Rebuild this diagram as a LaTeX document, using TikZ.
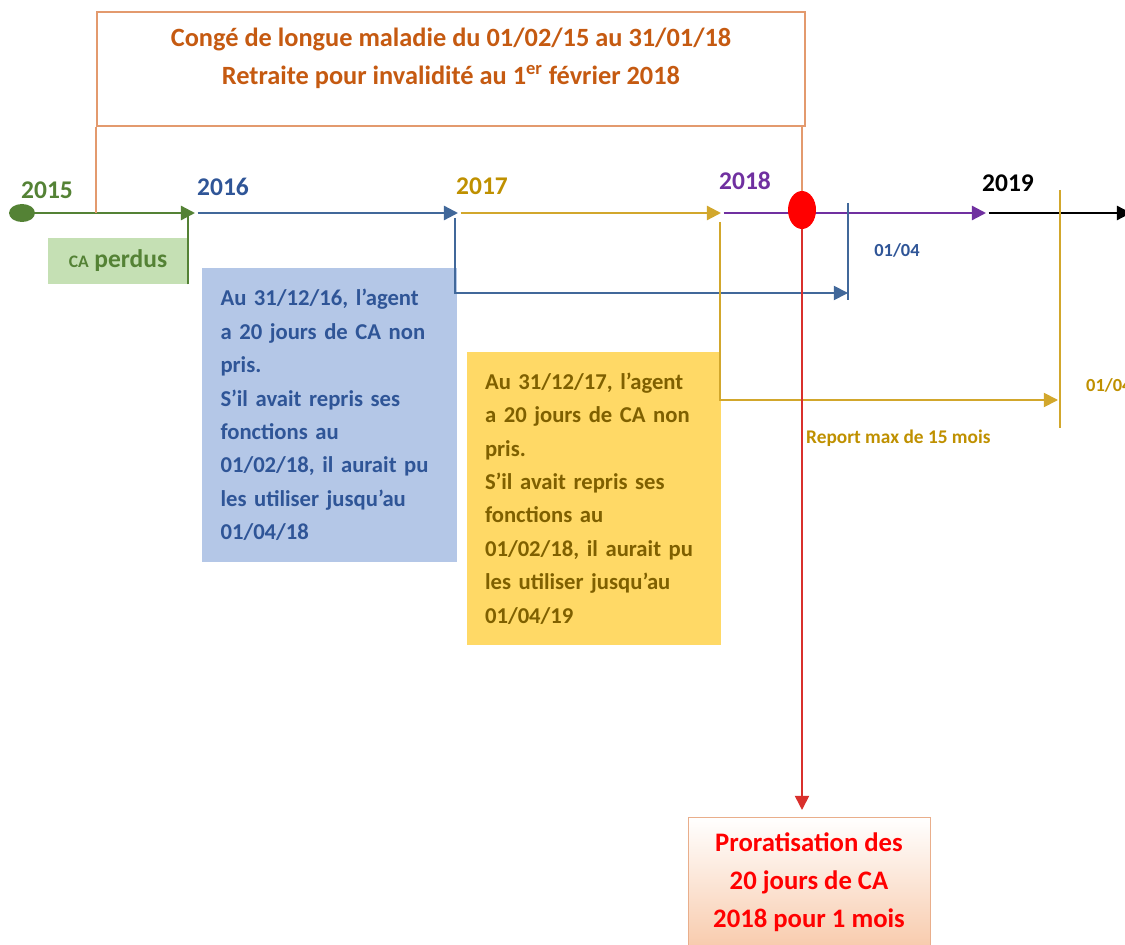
\documentclass[tikz,border=0pt]{standalone}
\usepackage{fontspec}
\setmainfont{Carlito}
\usetikzlibrary{arrows.meta,shapes.geometric,positioning}

\definecolor{congetxt}{HTML}{C55A11}
\definecolor{congeline}{HTML}{E39A6E}
\definecolor{vert}{HTML}{548235}
\definecolor{vertclair}{HTML}{C5E0B4}
\definecolor{bleu}{HTML}{2F5597}
\definecolor{bleuline}{HTML}{41689A}
\definecolor{bleuclair}{HTML}{B4C7E7}
\definecolor{dore}{HTML}{BF9000}
\definecolor{doreline}{HTML}{D2A72C}
\definecolor{doreclair}{HTML}{FFD966}
\definecolor{dorefonce}{HTML}{7F6000}
\definecolor{violet}{HTML}{7030A0}
\definecolor{rougeline}{HTML}{D9302C}
\definecolor{peche}{HTML}{F8CBAD}

\tikzset{
  axe/.style={line width=1.3pt,->},
  trait/.style={line width=1pt},
  annee/.style={font=\bfseries\fontsize{14.5}{16}\selectfont},
  petit/.style={font=\bfseries\fontsize{10.5}{12}\selectfont},
  note/.style={minimum height=5.87cm, text width=4.36cm, inner xsep=0.37cm,
    align=left, font=\bfseries\fontsize{12.9}{19}\selectfont}
}

\begin{document}
\begin{tikzpicture}[x=0.02cm,y=-0.02cm, >={Triangle[length=8pt,width=8pt]}]
\useasboundingbox (0,0) rectangle (1125,945);

% axe du temps
\coordinate (t2016) at (195,213);
\coordinate (t2017) at (458,213);
\coordinate (t2018) at (721,213);
\coordinate (t2019) at (986,213);
\coordinate (tfin) at (1131,213);

\node[ellipse, fill=vert, minimum width=0.52cm, minimum height=0.36cm, inner sep=0] (dot) at (22,213) {};

\draw[axe, vert] (dot) -- (t2016);
\draw[axe, bleuline, shorten <=1.5pt] (t2016) -- (t2017);
\draw[axe, doreline, shorten <=1.5pt] (t2017) -- (t2018);
\draw[axe, violet, shorten <=1.5pt] (t2018) -- (t2019);
\draw[axe, black, shorten <=1.5pt] (t2019) -- (tfin);

\node[annee, text=vert] (a2015) at (47,190) {2015};
\node[annee, text=bleu] (a2016) at (223,187) {2016};
\node[annee, text=dore] (a2017) at (482,186) {2017};
\node[annee, text=violet] (a2018) at (745,181) {2018};
\node[annee, text=black] (a2019) at (1008,183) {2019};

% conge
\node[draw=congeline, trait, minimum width=14.16cm, minimum height=2.28cm] (conge) at (451,69) {};
\node[text=congetxt, align=center, font=\bfseries\fontsize{15}{21.5}\selectfont] (congetexte) at (451,58)
  {Congé de longue maladie du 01/02/15 au 31/01/18\\Retraite pour invalidité au 1\textsuperscript{er} février 2018};

\node[ellipse, fill=red, minimum width=0.56cm, minimum height=0.76cm, inner sep=0] (evt) at (802,210) {};

\draw[congeline, trait] (conge.south west) -- (conge.south west |- t2016);
\draw[congeline, trait] (conge.south -| evt) -- (evt.north);

% CA perdus
\node[fill=vertclair, minimum width=2.8cm, minimum height=0.92cm, text=vert,
  font=\bfseries\fontsize{14.5}{16}\selectfont] (perdus) at (118,261)
  {{\fontsize{10}{12}\selectfont CA} perdus};
\draw[vert, trait] (perdus.south east) -- (perdus.east |- t2016);

% report 2016
\node[note, fill=bleuclair, text=bleu] (note16) at (329.5,415)
  {Au 31/12/16, l’agent\\a 20 jours de CA non\\pris.\\S’il avait repris ses\\fonctions au\\01/02/18, il aurait pu\\les utiliser jusqu’au\\01/04/18};

\coordinate (b16) at (455,218);
\coordinate (fin18) at (848,293);
\coordinate (avr18h) at (848,203);
\coordinate (avr18b) at (848,300);
\draw[axe, bleuline, line width=1pt] (b16) |- (fin18);
\draw[bleuline, trait] (avr18h) -- (avr18b);
\node[petit, text=bleu] (avr18) at (897,250) {01/04};

% report 2017
\node[note, fill=doreclair, text=dorefonce] (note17) at (594,498.5)
  {Au 31/12/17, l’agent\\a 20 jours de CA non\\pris.\\S’il avait repris ses\\fonctions au\\01/02/18, il aurait pu\\les utiliser jusqu’au\\01/04/19};

\coordinate (b17) at (720,222);
\coordinate (fin19) at (1058,400);
\coordinate (avr19h) at (1060,190);
\coordinate (avr19b) at (1060,428);
\draw[axe, doreline, line width=1pt] (b17) |- (fin19);
\draw[doreline, trait] (avr19h) -- (avr19b);
\node[petit, text=dore, anchor=west] (avr19) at (1080,385) {01/04};
\node[petit, text=dore, anchor=west, font=\bfseries\fontsize{11}{12}\selectfont] (report) at (800,438) {Report max de 15 mois};

% proratisation
\node[draw=congeline!80, top color=white, bottom color=peche, minimum width=4.84cm,
  minimum height=2.6cm, anchor=north, text=red, align=center,
  font=\bfseries\fontsize{15.2}{21.8}\selectfont] (prorat) at (809,817)
  {Proratisation des\\20 jours de CA\\2018 pour 1 mois};

\draw[axe, rougeline, line width=1pt, shorten >=4pt] (evt.south) -- (evt.south |- prorat.north);
\end{tikzpicture}
\end{document}
